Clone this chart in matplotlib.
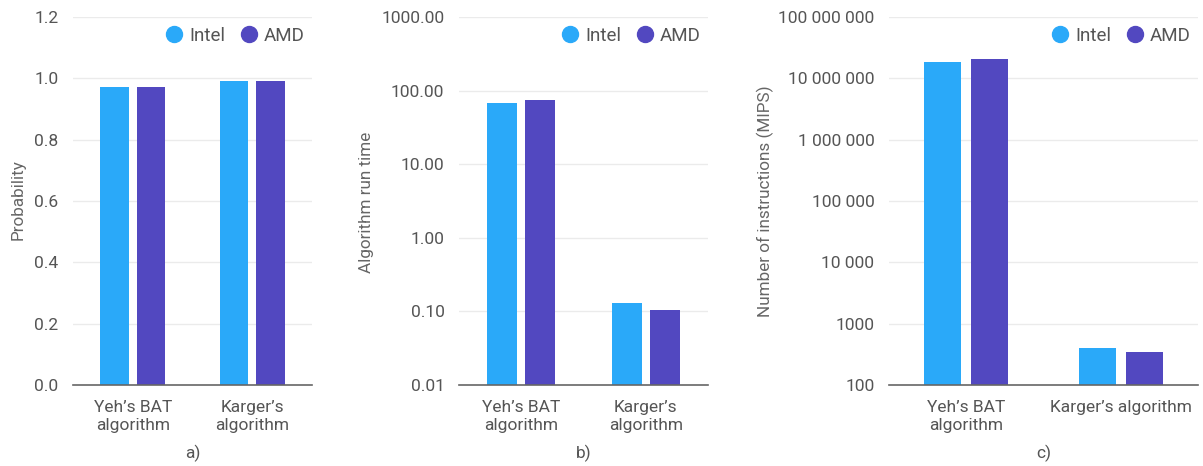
import matplotlib
matplotlib.use("Agg")
import matplotlib.pyplot as plt
from matplotlib.lines import Line2D
import numpy as np

plt.rcParams['font.family'] = ['Roboto', 'DejaVu Sans']

# ---- data ----
series = ["Intel", "AMD"]
colors = ["#2aa9f9", "#5248c0"]

cats_a = ["Yeh’s BAT\nalgorithm", "Karger’s\nalgorithm"]
prob_intel = [0.973, 0.992]
prob_amd = [0.973, 0.992]
ticks_a = [0.0, 0.2, 0.4, 0.6, 0.8, 1.0, 1.2]
ticklabels_a = ["0.0", "0.2", "0.4", "0.6", "0.8", "1.0", "1.2"]

cats_b = ["Yeh’s BAT\nalgorithm", "Karger’s\nalgorithm"]
time_intel = [67.0, 0.129]
time_amd = [74.5, 0.104]
ticks_b = [0.01, 0.1, 1, 10, 100, 1000]
ticklabels_b = ["0.01", "0.10", "1.00", "10.00", "100.00", "1000.00"]

cats_c = ["Yeh’s BAT\nalgorithm", "Karger’s algorithm"]
mips_intel = [1.88e7, 396]
mips_amd = [2.08e7, 349]
ticks_c = [1e2, 1e3, 1e4, 1e5, 1e6, 1e7, 1e8]
ticklabels_c = ["100", "1000", "10 000", "100 000", "1 000 000", "10 000 000", "100 000 000"]

ylabels = ["Probability", "Algorithm run time", "Number of instructions (MIPS)"]
panel_tags = ["a)", "b)", "c)"]

# ---- figure ----
W, H = 1203, 466
fig = plt.figure(figsize=(W / 100, H / 100), dpi=100)

bottom = 1 - 385 / H
top = 1 - 17 / H
height = top - bottom
rects = [
    (73 / W, bottom, 239 / W, height),
    (459 / W, bottom, 249 / W, height),
    (889 / W, bottom, 309 / W, height),
]

panels = [
    (cats_a, prob_intel, prob_amd, ticks_a, ticklabels_a, False),
    (cats_b, time_intel, time_amd, ticks_b, ticklabels_b, True),
    (cats_c, mips_intel, mips_amd, ticks_c, ticklabels_c, True),
]
ylabel_x = [18, 367, 765]
ylabel_y = [200, 202, 201]
tick_color = "#555555"
bw = 0.24
off = 0.152

for i, (rect, (cats, vi, va, ticks, tlabels, logy)) in enumerate(zip(rects, panels)):
    ax = fig.add_axes(rect)
    x = np.arange(len(cats))
    if logy:
        ax.set_yscale("log")
    base = ticks[0]
    ax.bar(x - off, np.array(vi) - (base if logy else 0), bw, bottom=base if logy else 0,
           color=colors[0], zorder=3)
    ax.bar(x + off, np.array(va) - (base if logy else 0), bw, bottom=base if logy else 0,
           color=colors[1], zorder=3)
    ax.set_xlim(-0.5, len(cats) - 0.5)
    ax.set_ylim(ticks[0], ticks[-1])
    ax.set_yticks(ticks)
    ax.set_yticklabels(tlabels)
    ax.yaxis.set_minor_locator(matplotlib.ticker.NullLocator())
    ax.set_xticks(x)
    ax.set_xticklabels(cats, linespacing=1.25)
    ax.tick_params(axis="y", length=0, pad=10.5, labelsize=12.5, labelcolor=tick_color)
    ax.tick_params(axis="x", length=0, pad=10.5, labelsize=12.5, labelcolor=tick_color)
    for t in ticks[1:]:
        ax.axhline(t, color="#ebebeb", lw=1.0, zorder=1)
    for s in ["top", "right", "left"]:
        ax.spines[s].set_visible(False)
    ax.spines["bottom"].set_color("#666666")
    ax.spines["bottom"].set_linewidth(1.2)
    ax.spines["bottom"].set_zorder(4)
    ax.set_facecolor("none")

    handles = [Line2D([], [], marker="o", linestyle="none", markersize=11.5,
                      markerfacecolor=c, markeredgecolor=c) for c in colors]
    ax.legend(handles, series, loc="upper right", ncol=2, frameon=False,
              bbox_to_anchor=(1.0, 0.994), handletextpad=0.35, columnspacing=0.8,
              handlelength=0.9, fontsize=13.5, labelcolor=tick_color, borderaxespad=0.0)

    fig.text(ylabel_x[i] / W, 1 - ylabel_y[i] / H, ylabels[i],
             rotation=90, ha="center", va="center", fontsize=12.3, color="#666666")
    cx = rect[0] + rect[2] / 2
    fig.text(cx, 1 - 453 / H, panel_tags[i], ha="center", va="center",
             fontsize=12.5, color=tick_color)

fig.savefig("out.png", dpi=100, facecolor="white")
